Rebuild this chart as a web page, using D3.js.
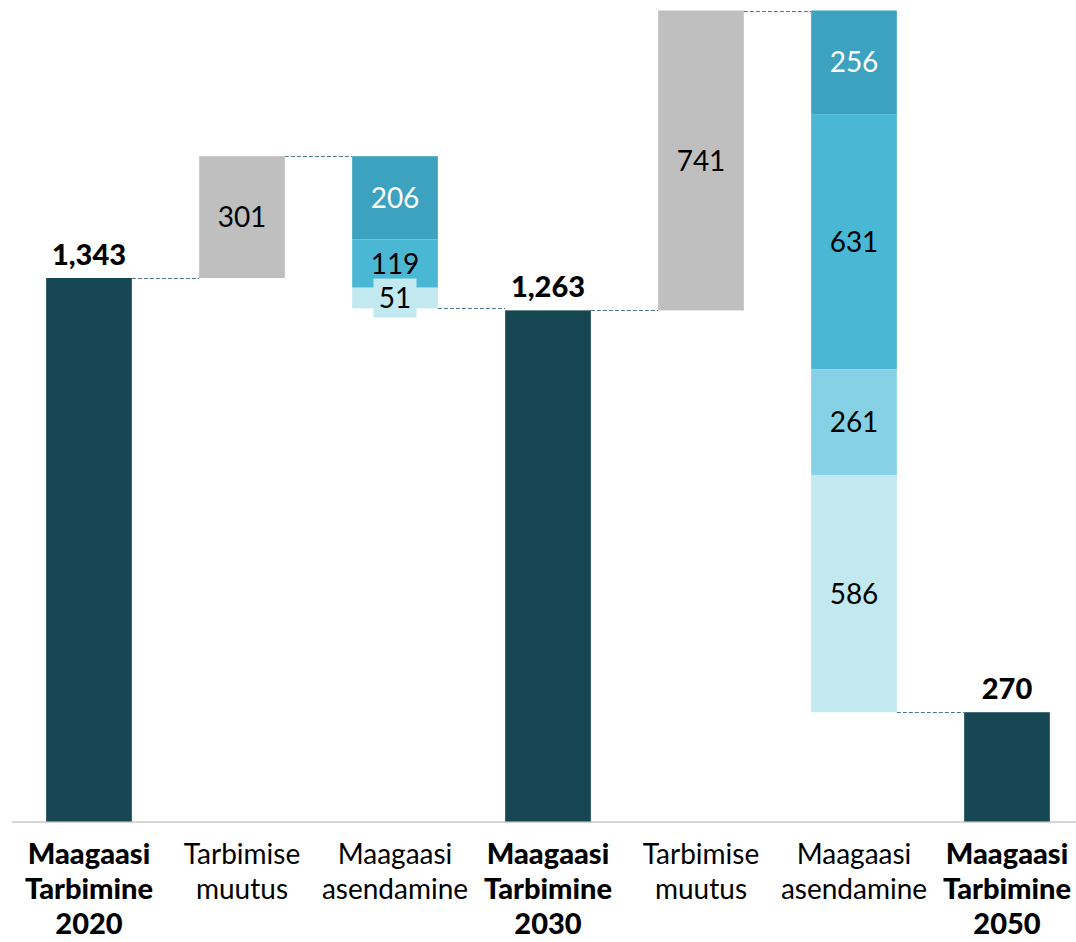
<!DOCTYPE html>
<html>
<head>
<meta charset="utf-8">
<script src="https://cdn.jsdelivr.net/npm/d3@7"></script>
<style>
  html, body { margin: 0; padding: 0; background: #fff; }
  svg { display: block; font-family: Lato, "Open Sans", sans-serif; }
</style>
</head>
<body>
<svg id="chart" width="1076" height="942"></svg>
<script>
// === DATA ===
const categories = ["tot2020", "tm2030", "ma2030", "tot2030", "tm2050", "ma2050", "tot2050"];
const categoryLabels = [
  ["Maagaasi", "Tarbimine", "2020"],
  ["Tarbimise", "muutus"],
  ["Maagaasi", "asendamine"],
  ["Maagaasi", "Tarbimine", "2030"],
  ["Tarbimise", "muutus"],
  ["Maagaasi", "asendamine"],
  ["Maagaasi", "Tarbimine", "2050"]
];
const categoryKinds = ["total", "increase", "decrease", "total", "increase", "decrease", "total"];
const segmentValues = [[1343], [301], [206, 119, 51], [1263], [741], [256, 631, 261, 586], [270]];
const segmentTypes = [["total"], ["change"], ["s1", "s2", "s4"], ["total"], ["change"], ["s1", "s2", "s3", "s4"], ["total"]];

// === LAYOUT ===
const svg = d3.select("#chart");
const baseline = 821.5;

const xScale = d3.scaleBand()
  .domain(categories)
  .range([12.5, 1083.5])
  .paddingInner(0.44)
  .paddingOuter(0.22);

const yScale = d3.scaleLinear()
  .domain([0, 2004])
  .range([baseline, 10.5]);

const colorScale = d3.scaleOrdinal()
  .domain(["total", "change", "s1", "s2", "s3", "s4"])
  .range(["#164753", "#BFBFBF", "#3CA2BF", "#4AB8D4", "#86D1E5", "#C2E8F0"]);

const textColor = { total: "#000", change: "#000", s1: "#fff", s2: "#000", s3: "#000", s4: "#000" };

// build segments (waterfall)
let cum = 0;
const segments = [];
const connectors = [];
categories.forEach((cat, i) => {
  const kind = categoryKinds[i];
  const vals = segmentValues[i];
  if (kind === "total") {
    segments.push({ cat, type: "total", y0: 0, y1: vals[0], value: vals[0], total: true });
    cum = vals[0];
  } else if (kind === "increase") {
    const sum = d3.sum(vals);
    segments.push({ cat, type: segmentTypes[i][0], y0: cum, y1: cum + sum, value: sum });
    cum += sum;
  } else {
    let top = cum;
    vals.forEach((v, j) => {
      segments.push({ cat, type: segmentTypes[i][j], y0: top - v, y1: top, value: v });
      top -= v;
    });
    cum = top;
  }
  if (i < categories.length - 1) connectors.push({ from: cat, to: categories[i + 1], level: cum });
});

// axis line
svg.append("line")
  .attr("x1", 12).attr("x2", 1076)
  .attr("y1", baseline + 0.5).attr("y2", baseline + 0.5)
  .attr("stroke", "#C8C8C8")
  .attr("stroke-width", 1.5);

// connectors
svg.selectAll(".connector")
  .data(connectors)
  .enter()
  .append("line")
  .attr("class", "connector")
  .attr("x1", d => xScale(d.from) + xScale.bandwidth())
  .attr("x2", d => xScale(d.to))
  .attr("y1", d => Math.round(yScale(d.level)) + 0.5)
  .attr("y2", d => Math.round(yScale(d.level)) + 0.5)
  .attr("stroke", "#4A7A85")
  .attr("stroke-width", 1.2)
  .attr("stroke-dasharray", "4,2");

// bars
svg.selectAll(".bar")
  .data(segments)
  .enter()
  .append("rect")
  .attr("class", "bar")
  .attr("x", d => xScale(d.cat))
  .attr("y", d => yScale(d.y1))
  .attr("width", xScale.bandwidth())
  .attr("height", d => yScale(d.y0) - yScale(d.y1))
  .attr("fill", d => colorScale(d.type));

// segment labels (with background box like excel data labels)
const fmt = d3.format(",");
const inner = segments.filter(d => !d.total);

const labelGroups = svg.selectAll(".seg-label")
  .data(inner)
  .enter()
  .append("g")
  .attr("class", "seg-label")
  .attr("transform", d => `translate(${xScale(d.cat) + xScale.bandwidth() / 2}, ${yScale((d.y0 + d.y1) / 2)})`);

labelGroups.append("rect")
  .attr("x", -21.5)
  .attr("y", -19.5)
  .attr("width", 43)
  .attr("height", 39)
  .attr("fill", d => colorScale(d.type));

labelGroups.append("text")
  .attr("text-anchor", "middle")
  .attr("dy", "0.36em")
  .attr("font-size", "28px")
  .attr("fill", d => textColor[d.type])
  .text(d => fmt(d.value));

// total labels
svg.selectAll(".total-label")
  .data(segments.filter(d => d.total))
  .enter()
  .append("text")
  .attr("class", "total-label")
  .attr("x", d => xScale(d.cat) + xScale.bandwidth() / 2)
  .attr("y", d => yScale(d.y1) - 13)
  .attr("text-anchor", "middle")
  .attr("font-size", "29px")
  .attr("font-weight", "900")
  .attr("fill", "#000")
  .text(d => fmt(d.value));

// category labels
const catLabels = svg.selectAll(".cat-label")
  .data(categories)
  .enter()
  .append("text")
  .attr("class", "cat-label")
  .attr("x", d => xScale(d) + xScale.bandwidth() / 2)
  .attr("y", 864)
  .attr("text-anchor", "middle")
  .attr("font-size", (d, i) => categoryKinds[i] === "total" ? "29px" : "28px")
  .attr("font-weight", (d, i) => categoryKinds[i] === "total" ? "900" : "normal")
  .attr("fill", "#000");

catLabels.selectAll("tspan")
  .data((d, i) => categoryLabels[i])
  .enter()
  .append("tspan")
  .attr("x", function() { return d3.select(this.parentNode).attr("x"); })
  .attr("dy", (d, j) => j === 0 ? 0 : 35)
  .text(d => d);
</script>
</body>
</html>
